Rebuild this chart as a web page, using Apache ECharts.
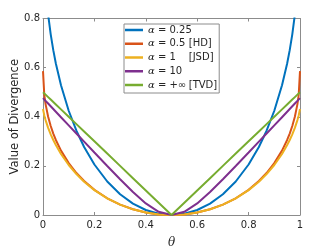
<!DOCTYPE html>
<html>
<head>
<meta charset="utf-8">
<script src="https://cdn.jsdelivr.net/npm/echarts@6/dist/echarts.min.js"></script>
<style>
html,body{margin:0;padding:0;background:#fff;}
#chart{width:332px;height:249px;}
</style>
</head>
<body>
<div id="chart"></div>
<script>
var theta = [0,0.005,0.01,0.02,0.03,0.04,0.05,0.07,0.1,0.13,0.16,0.2,0.25,0.3,0.35,0.4,0.45,0.5,0.55,0.6,0.65,0.7,0.75,0.8,0.84,0.87,0.9,0.93,0.95,0.96,0.97,0.98,0.99,0.995,1];
var alpha025 = [1.3385,1.0153,0.9284,0.8158,0.7355,0.6712,0.6170,0.5282,0.4244,0.3432,0.2770,0.2056,0.1364,0.0844,0.0463,0.0203,0.0050,0,0.0050,0.0203,0.0463,0.0844,0.1364,0.2056,0.2770,0.3432,0.4244,0.5282,0.6170,0.6712,0.7355,0.8158,0.9284,1.0153,1.3385];
var alpha05 = [0.5858,0.4893,0.4515,0.4000,0.3622,0.3315,0.3054,0.2620,0.2111,0.1710,0.1382,0.1026,0.0681,0.0422,0.0232,0.0101,0.0025,0,0.0025,0.0101,0.0232,0.0422,0.0681,0.1026,0.1382,0.1710,0.2111,0.2620,0.3054,0.3315,0.3622,0.4000,0.4515,0.4893,0.5858];
var alpha1 = [0.4315,0.4055,0.3864,0.3549,0.3286,0.3054,0.2847,0.2484,0.2035,0.1666,0.1355,0.1013,0.0676,0.0420,0.0231,0.0101,0.0025,0,0.0025,0.0101,0.0231,0.0420,0.0676,0.1013,0.1355,0.1666,0.2035,0.2484,0.2847,0.3054,0.3286,0.3549,0.3864,0.4055,0.4315];
var alpha10 = [0.4759,0.4704,0.4648,0.4537,0.4426,0.4315,0.4204,0.3982,0.3650,0.3317,0.2986,0.2544,0.1995,0.1455,0.0935,0.0471,0.0129,0,0.0129,0.0471,0.0935,0.1455,0.1995,0.2544,0.2986,0.3317,0.3650,0.3982,0.4204,0.4315,0.4426,0.4537,0.4648,0.4704,0.4759];
var alphaInf = [0.5,0.495,0.49,0.48,0.47,0.46,0.45,0.43,0.4,0.37,0.34,0.3,0.25,0.2,0.15,0.1,0.05,0,0.05,0.1,0.15,0.2,0.25,0.3,0.34,0.37,0.4,0.43,0.45,0.46,0.47,0.48,0.49,0.495,0.5];

var seriesNames = ['α = 0.25','α = 0.5','α = 1','α = 10','α = +∞'];
var legendValues = [' = 0.25',' = 0.5',' = 1',' = 10',' = +∞'];
var legendTags = ['','[HD]','[JSD]','','[TVD]'];
var seriesValues = [alpha025, alpha05, alpha1, alpha10, alphaInf];
var colors = ['#0072BD','#D95319','#EDB120','#7E2F8E','#77AC30'];

var textColor = '#262626';
var axisColor = '#8c8c8c';

var chart = echarts.init(document.getElementById('chart'), null, {renderer:'canvas'});

var series = seriesValues.map(function(vals, k){
  return {
    name: seriesNames[k],
    type: 'line',
    showSymbol: false,
    symbol: 'none',
    clip: true,
    color: colors[k],
    lineStyle: {width: 2, color: colors[k]},
    data: theta.map(function(t, i){ return [t, vals[i]]; })
  };
});

function axisCommon(extra){
  var base = {
    type: 'value',
    splitLine: {show:false},
    axisLine: {show:true, onZero:false, lineStyle:{color:axisColor, width:1}},
    axisTick: {show:true, inside:true, length:3, lineStyle:{color:axisColor}},
  };
  for (var k in extra) base[k] = extra[k];
  return base;
}

chart.setOption({
  animation: false,
  backgroundColor: '#fff',
  grid: {left:43, top:18.5, width:257, height:196.5, containLabel:false, outerBoundsMode:'none'},
  legend: {
    data: seriesNames,
    orient: 'vertical',
    left: 124,
    top: 24,
    icon: 'rect',
    itemWidth: 18,
    itemHeight: 2.5,
    itemGap: 1.75,
    padding: [0,2,2,1],
    backgroundColor: '#fff',
    borderColor: '#8c8c8c',
    borderWidth: 1,
    textStyle: {
      color: textColor,
      fontFamily: 'DejaVu Sans',
      fontSize: 10,
      lineHeight: 12,
      rich: {
        g: {fontStyle:'italic', fontFamily:'DejaVu Serif', fontSize:10, color:textColor, lineHeight:12},
        v: {width:34, fontFamily:'DejaVu Sans', fontSize:10, color:textColor, lineHeight:12},
        n: {fontFamily:'DejaVu Sans', fontSize:10, color:textColor, lineHeight:12},
        t: {fontFamily:'DejaVu Sans', fontSize:10, color:textColor, lineHeight:12}
      }
    },
    formatter: function(name){
      var k = seriesNames.indexOf(name);
      if (legendTags[k]) return '{g|α}{v|' + legendValues[k] + '}{t|' + legendTags[k] + '}';
      return '{g|α}{n|' + legendValues[k] + '}';
    }
  },
  xAxis: [
    axisCommon({
      position:'bottom', min:0, max:1, interval:0.2,
      name:'θ', nameLocation:'middle', nameGap:22, nameMoveOverlap:false,
      nameTextStyle:{fontFamily:'DejaVu Serif', fontStyle:'italic', fontSize:12, color:textColor},
      axisLabel:{color:textColor, fontFamily:'DejaVu Sans', fontSize:10, margin:5}
    }),
    axisCommon({
      position:'top', min:0, max:1, interval:0.2,
      axisLabel:{show:false}
    })
  ],
  yAxis: [
    axisCommon({
      position:'left', min:0, max:0.8, interval:0.2,
      name:'Value of Divergence', nameLocation:'middle', nameGap:22, nameMoveOverlap:false,
      nameTextStyle:{fontFamily:'DejaVu Sans', fontSize:11.5, color:textColor},
      axisLabel:{color:textColor, fontFamily:'DejaVu Sans', fontSize:10, margin:3}
    }),
    axisCommon({
      position:'right', min:0, max:0.8, interval:0.2,
      axisLabel:{show:false}
    })
  ],
  series: series
});
</script>
</body>
</html>
